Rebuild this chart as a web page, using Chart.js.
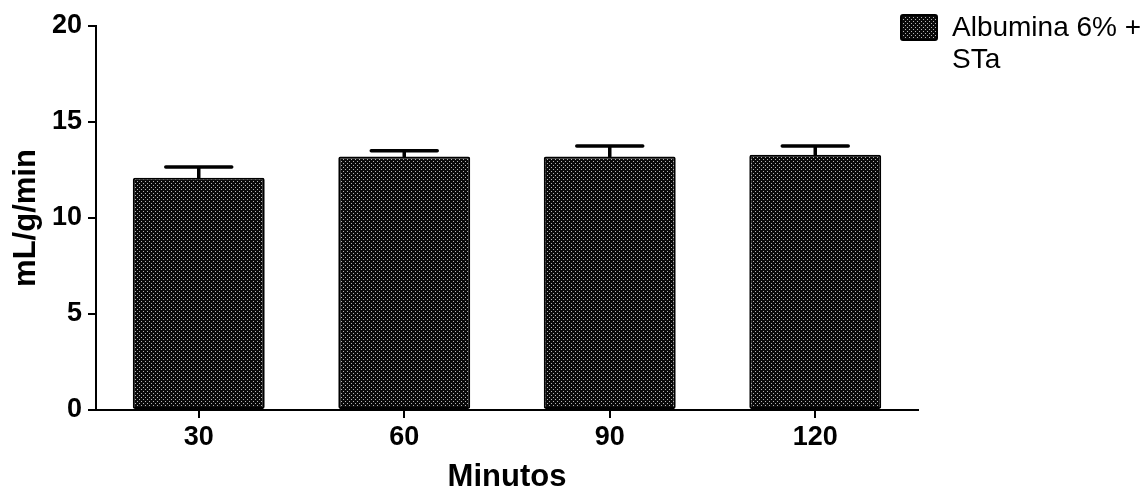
<!DOCTYPE html>
<html>
<head>
<meta charset="utf-8">
<script src="https://cdn.jsdelivr.net/npm/chart.js@4/dist/chart.umd.min.js"></script>
<style>
html,body{margin:0;padding:0;background:#fff;}
#wrap{width:1147px;height:491px;position:relative;}
</style>
</head>
<body>
<div id="wrap"><canvas id="c"></canvas></div>
<script>
const categories = ["30", "60", "90", "120"];
const seriesName = ["Albumina 6% +", "STa"];
const meanValues = [12.1, 13.2, 13.2, 13.3];
const errorValues = [0.55, 0.3, 0.55, 0.45];
const yTicks = [0, 5, 10, 15, 20];
const yTitle = "mL/g/min";
const xTitle = "Minutos";

function makePattern() {
  const p = document.createElement('canvas');
  p.width = 4; p.height = 4;
  const g = p.getContext('2d');
  g.fillStyle = '#0a0a0a';
  g.fillRect(0, 0, 4, 4);
  g.fillStyle = '#b4b4b4';
  g.fillRect(1, 1, 1, 1);
  g.fillRect(3, 3, 1, 1);
  return document.getElementById('c').getContext('2d').createPattern(p, 'repeat');
}
const pattern = makePattern();

const errorBarPlugin = {
  id: 'errorBars',
  afterDatasetsDraw(chart) {
    const ctx = chart.ctx;
    const meta = chart.getDatasetMeta(0);
    const y = chart.scales.y;
    ctx.save();
    ctx.strokeStyle = '#000';
    ctx.lineWidth = 3.5;
    ctx.lineCap = 'round';
    meta.data.forEach((bar, i) => {
      const x = bar.x;
      const top = y.getPixelForValue(meanValues[i] + errorValues[i]);
      const base = y.getPixelForValue(meanValues[i]);
      const half = bar.width / 4;
      ctx.beginPath();
      ctx.moveTo(x, base);
      ctx.lineTo(x, top);
      ctx.moveTo(x - half, top);
      ctx.lineTo(x + half, top);
      ctx.stroke();
    });
    ctx.restore();
  }
};

const legendPlugin = {
  id: 'customLegend',
  afterDraw(chart) {
    const ctx = chart.ctx;
    ctx.save();
    ctx.fillStyle = pattern;
    ctx.strokeStyle = '#000';
    ctx.lineWidth = 2;
    ctx.beginPath();
    ctx.roundRect(901, 15, 36, 25, 2);
    ctx.fill();
    ctx.stroke();
    ctx.fillStyle = '#000';
    ctx.font = '28px "Liberation Sans", Arial, sans-serif';
    ctx.textBaseline = 'alphabetic';
    ctx.textAlign = 'left';
    seriesName.forEach((t, i) => ctx.fillText(t, 952, 36 + i * 32));
    ctx.restore();
  }
};

new Chart(document.getElementById('c'), {
  type: 'bar',
  data: {
    labels: categories,
    datasets: [{
      label: seriesName.join(' '),
      data: meanValues,
      backgroundColor: pattern,
      borderColor: '#000',
      borderWidth: 2,
      borderRadius: 2,
      borderSkipped: false,
      categoryPercentage: 1,
      barPercentage: 0.642
    }]
  },
  options: {
    responsive: true,
    maintainAspectRatio: false,
    animation: false,
    devicePixelRatio: 1,
    layout: { padding: { top: 26, right: 229, bottom: 0, left: 0 } },
    plugins: { legend: { display: false }, tooltip: { enabled: false } },
    scales: {
      x: {
        afterFit(s) { s.height = 81; },
        grid: { display: true, drawOnChartArea: false, tickLength: 8, color: '#000', lineWidth: 2, offset: false },
        border: { display: true, color: '#000', width: 2 },
        ticks: { color: '#000', padding: 3, font: { family: '"Liberation Sans", Arial, sans-serif', size: 27, weight: 'bold' } },
        title: { display: true, text: xTitle, color: '#000', padding: { top: 0, bottom: 0 }, font: { family: '"Liberation Sans", Arial, sans-serif', size: 31, weight: 'bold', lineHeight: 0.9 } }
      },
      y: {
        min: 0, max: 20,
        afterFit(s) { s.width = 96; },
        afterBuildTicks(s) { s.ticks = yTicks.map(v => ({ value: v })); },
        grid: { display: true, drawOnChartArea: false, tickLength: 8, color: '#000', lineWidth: 2 },
        border: { display: true, color: '#000', width: 2 },
        ticks: { color: '#000', padding: 6, font: { family: '"Liberation Sans", Arial, sans-serif', size: 27, weight: 'bold' } },
        title: { display: true, text: yTitle, color: '#000', padding: { top: 8, bottom: 0 }, font: { family: '"Liberation Sans", Arial, sans-serif', size: 31, weight: 'bold' } }
      }
    }
  },
  plugins: [errorBarPlugin, legendPlugin]
});
</script>
</body>
</html>
